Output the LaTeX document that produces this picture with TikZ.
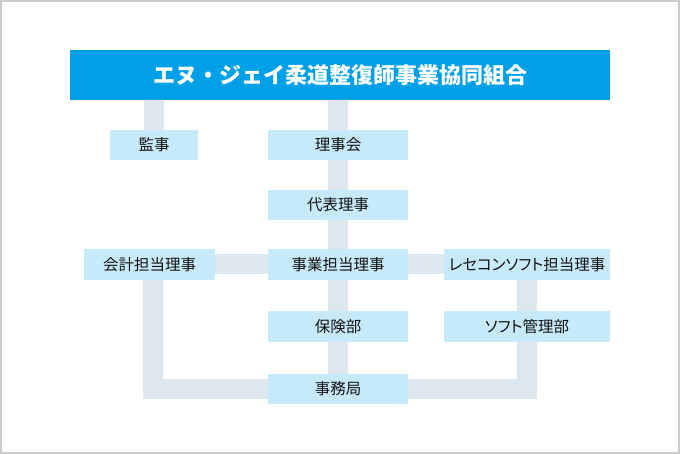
\documentclass[tikz,border=0pt]{standalone}
\usepackage{fontspec}
\newfontfamily\jp{Noto Sans CJK JP}
\newfontfamily\jpp[RawFeature=+palt]{Noto Sans CJK JP}
\usetikzlibrary{backgrounds}
\definecolor{headblue}{HTML}{00A0E9}
\definecolor{boxblue}{HTML}{C7EAFB}
\definecolor{linkgray}{HTML}{DEE7EE}
\definecolor{framegray}{HTML}{CCCCCC}
\definecolor{txt}{HTML}{111111}
\tikzset{
  orgbox/.style={fill=boxblue, inner sep=0pt, minimum height=30.5pt, text=txt, font=\jpp\fontsize{15.5pt}{15.5pt}\selectfont},
  headbox/.style={fill=headblue, inner sep=0pt, minimum width=540pt, minimum height=50pt, text=white, font=\jp\bfseries\fontsize{22pt}{22pt}\selectfont},
  link/.style={draw=linkgray, line width=20pt, line join=miter}
}
\begin{document}
\begin{tikzpicture}[x=1pt,y=-1pt]
\useasboundingbox (0,0) rectangle (680,454);
\draw[framegray, line width=2pt] (1,1) rectangle (679,453);
\node[headbox] (head) at (340,75) {エヌ・ジェイ柔道整復師事業協同組合};
\node[orgbox, minimum width=88pt] (kansa) at (154,145) {監事};
\node[orgbox, minimum width=140pt] (rijikai) at (338,145) {理事会};
\node[orgbox, minimum width=140pt] (daihyo) at (338,205) {代表理事};
\node[orgbox, minimum width=140pt] (jigyo) at (338,264.5) {事業担当理事};
\node[orgbox, minimum width=131pt] (kaikei) at (149.5,264.5) {会計担当理事};
\node[orgbox, minimum width=166pt] (rese) at (527,264.5) {レセコンソフト担当理事};
\node[orgbox, minimum width=140pt] (hoken) at (338,326.5) {保険部};
\node[orgbox, minimum width=166pt] (soft) at (527,326.5) {ソフト管理部};
\node[orgbox, minimum width=140pt] (jimu) at (338,389) {事務局};
\begin{scope}[on background layer]
\draw[link] (kansa.north |- head.south) -- (kansa.north);
\draw[link] (jimu.north |- head.south) -- (jimu.north);
\draw[link] (kaikei.east) -- (rese.west);
\draw[link] ([xshift=3.5pt]kaikei.south) |- (jimu.west);
\draw[link] (rese.south) |- (jimu.east);
\end{scope}
\end{tikzpicture}
\end{document}
